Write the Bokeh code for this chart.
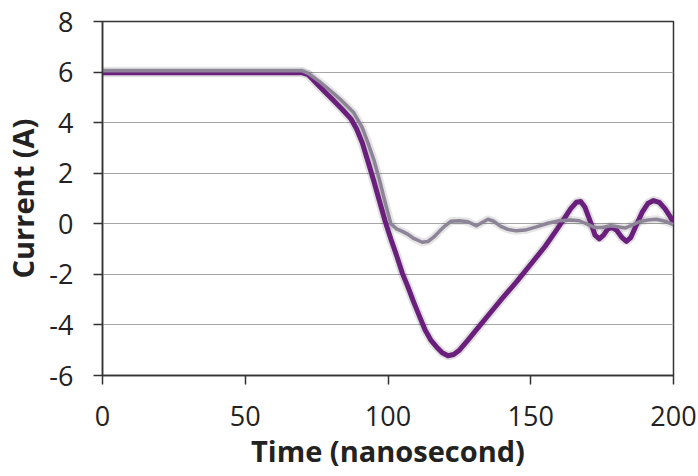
from bokeh.plotting import figure
from bokeh.models import Range1d, FixedTicker, CustomJSTickFormatter
from bokeh.embed import file_html
from bokeh.resources import INLINE

# Time (ns) and current (A)
t_purple = [0, 70, 72, 75, 78, 81, 84, 87, 89, 91, 93, 95, 97, 99, 101, 103, 105, 107,
            109, 111, 113, 115, 117, 119, 121, 123, 125, 128, 132, 136, 140, 145, 150,
            155, 159, 162, 164, 166, 167.5, 169, 171, 172.5, 174, 175.5, 177, 178.5,
            180, 182, 183.5, 185, 187, 189, 191, 193, 195, 197, 199, 200]
i_purple = [5.97, 5.97, 5.9, 5.55, 5.2, 4.87, 4.52, 4.15, 3.75, 3.2, 2.45, 1.7, 0.9, 0.1,
            -0.6, -1.25, -1.95, -2.5, -3.1, -3.65, -4.2, -4.6, -4.87, -5.1, -5.22, -5.17,
            -5.0, -4.6, -4.05, -3.5, -2.95, -2.3, -1.6, -0.9, -0.25, 0.25, 0.6, 0.85, 0.88,
            0.65, 0.05, -0.45, -0.6, -0.45, -0.2, -0.15, -0.25, -0.55, -0.7, -0.55, -0.05,
            0.45, 0.8, 0.92, 0.85, 0.6, 0.25, 0.05]

t_gray = [0, 70, 72, 76, 80, 84, 88, 90, 91, 93, 95, 97, 99, 101, 103, 105, 107, 109,
          112, 114, 116, 118, 120, 122, 125, 128, 131, 133, 135, 137, 139.5, 142, 145,
          148, 152, 156, 160, 164, 167, 170, 172.5, 175, 178, 180.5, 183, 185.5, 188,
          191, 194, 197, 200]
i_gray = [6.05, 6.05, 5.95, 5.62, 5.25, 4.85, 4.4, 4.0, 3.8, 3.2, 2.55, 1.75, 0.85, 0.0,
          -0.2, -0.3, -0.42, -0.58, -0.73, -0.7, -0.53, -0.3, -0.08, 0.1, 0.12, 0.08,
          -0.08, 0.05, 0.18, 0.1, -0.1, -0.22, -0.28, -0.25, -0.12, 0.02, 0.12, 0.15,
          0.12, -0.02, -0.15, -0.15, -0.08, -0.12, -0.17, -0.05, 0.08, 0.15, 0.18, 0.1,
          -0.03]

x_ticks = [0, 50, 100, 150, 200]
y_ticks = [-6, -4, -2, 0, 2, 4, 6, 8]

p = figure(width=698, height=476, output_backend="svg", toolbar_location=None,
           x_range=Range1d(0, 200), y_range=Range1d(-6, 8),
           min_border_left=102, min_border_right=25, min_border_top=21,
           min_border_bottom=101)

p.background_fill_color = "white"
p.border_fill_color = "white"
p.outline_line_color = "#333333"
p.outline_line_width = 1.5

p.xgrid.visible = False
p.ygrid.ticker = FixedTicker(ticks=y_ticks)
p.ygrid.grid_line_color = "#a6a6a6"
p.ygrid.grid_line_width = 1

p.xaxis.ticker = FixedTicker(ticks=x_ticks)
p.yaxis.ticker = FixedTicker(ticks=y_ticks)
for ax in (p.xaxis, p.yaxis):
    ax.formatter = CustomJSTickFormatter(code="return tick.toString();")
    ax.axis_line_color = "#333333"
    ax.axis_line_width = 1.5
    ax.major_tick_line_color = "#333333"
    ax.major_tick_line_width = 1.5
    ax.major_tick_in = 0
    ax.major_tick_out = 9
    ax.minor_tick_line_color = None
    ax.major_label_text_font = "Open Sans"
    ax.major_label_text_font_size = "27px"
    ax.major_label_text_color = "#222222"
    ax.axis_label_text_font = "Open Sans"
    ax.axis_label_text_font_style = "bold"
    ax.axis_label_text_font_size = "29px"
    ax.axis_label_text_color = "#222222"

p.xaxis.axis_label = "Time (nanosecond)"
p.yaxis.axis_label = "Current (A)"
p.xaxis.major_label_standoff = 21
p.yaxis.major_label_standoff = 20
p.xaxis.axis_label_standoff = 2
p.yaxis.axis_label_standoff = 4

# soft shadows
p.line(t_purple, i_purple, line_color="#000000", line_alpha=0.12, line_width=9)
p.line(t_gray, i_gray, line_color="#000000", line_alpha=0.10, line_width=8)

p.line(t_purple, i_purple, line_color="#6b1f7c", line_width=5, line_join="round")
p.line(t_gray, i_gray, line_color="#8d8498", line_width=3.5, line_join="round")

open("out.html", "w").write(file_html(p, INLINE))
